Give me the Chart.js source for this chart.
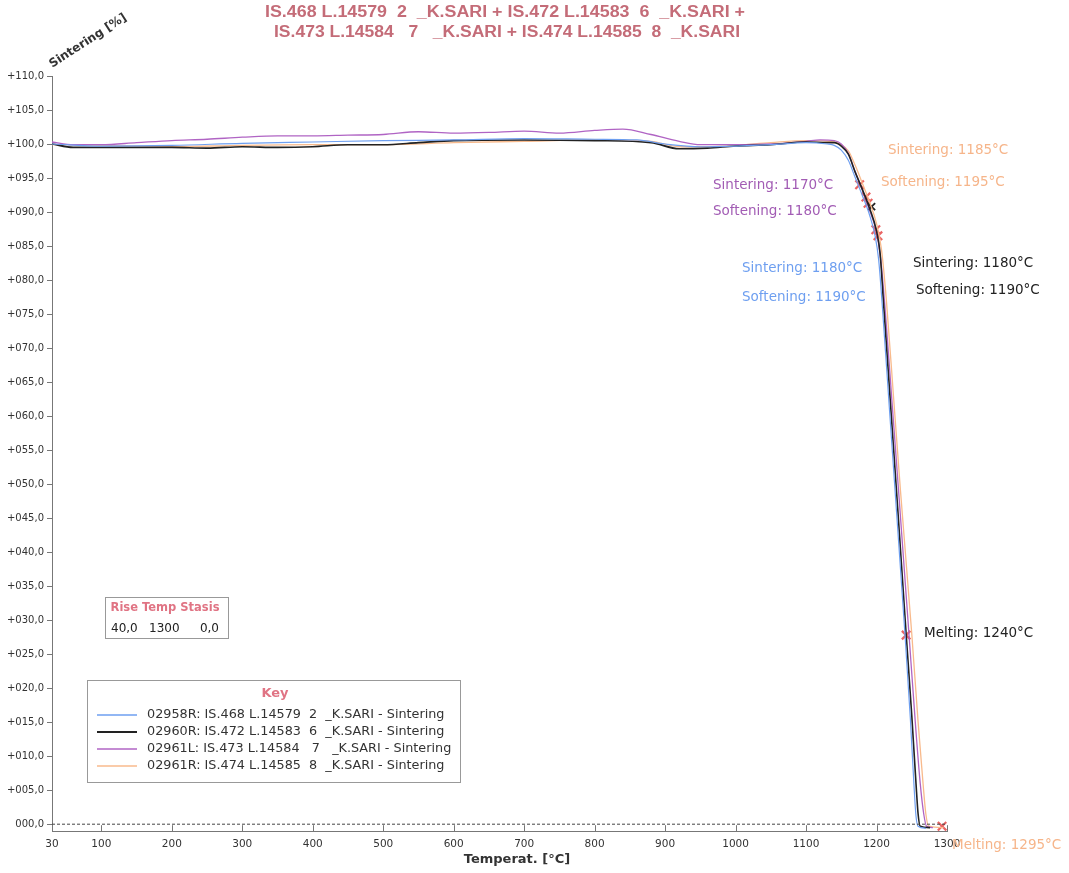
<!DOCTYPE html>
<html>
<head>
<meta charset="utf-8">
<script src="https://cdn.jsdelivr.net/npm/chart.js@4.4.1/dist/chart.umd.min.js"></script>
<style>
html,body{margin:0;padding:0;background:#fff;}
#wrap{width:1069px;height:873px;position:relative;}
</style>
</head>
<body>
<div id="wrap"><canvas id="c" width="1069" height="873"></canvas></div>
<script>
// ---- data ----
const xTicks = [30,100,200,300,400,500,600,700,800,900,1000,1100,1200,1300];
const yTicks = [0,5,10,15,20,25,30,35,40,45,50,55,60,65,70,75,80,85,90,95,100,105,110];

const blueT = [30,100,200,300,400,500,600,700,800,860,900,950,1000,1050,1100,1130,1140,1150,1160,1170,1180,1190,1198,1203,1208,1218,1228,1240,1248,1253,1256,1259,1270];
const blueV = [100.0,99.7,99.8,100.1,100.3,100.5,100.6,100.8,100.7,100.6,100.0,99.6,99.7,99.9,100.2,100.0,99.8,99.1,97.6,95.0,92.4,89.6,86.5,83.0,76.5,61.5,46.5,28.5,15.5,6.0,1.2,-0.3,-0.6];

const blackT = [30,60,100,200,250,300,350,400,450,500,550,600,700,800,880,920,960,1000,1050,1100,1130,1140,1150,1160,1170,1180,1190,1200,1205,1210,1220,1230,1242,1250,1256,1259,1262,1276];
const blackV = [100.0,99.5,99.5,99.5,99.4,99.6,99.5,99.6,99.9,99.9,100.2,100.5,100.6,100.5,100.2,99.3,99.4,99.7,99.9,100.3,100.2,100.2,99.7,98.5,95.8,93.3,90.6,87.2,84.0,76.5,61.5,46.5,28.0,16.0,6.0,1.5,-0.3,-0.5];

const purpleT = [30,60,100,150,200,250,300,350,400,450,500,550,600,650,700,750,800,840,880,920,950,1000,1050,1100,1120,1140,1150,1160,1170,1180,1190,1200,1206,1212,1222,1232,1246,1255,1262,1267,1271,1280];
const purpleV = [100.3,99.9,99.9,100.2,100.5,100.7,101.0,101.2,101.2,101.3,101.4,101.8,101.6,101.7,101.9,101.6,102.0,102.2,101.4,100.4,99.9,99.9,100.0,100.4,100.6,100.5,100.0,98.6,95.8,93.2,90.3,87.0,83.0,76.0,62.0,48.0,28.0,15.0,6.0,1.5,-0.3,-0.5];

const orangeT = [30,100,200,300,400,500,600,700,800,880,920,960,1000,1050,1100,1140,1150,1160,1170,1180,1190,1200,1207,1214,1224,1234,1250,1259,1266,1270,1274,1295];
const orangeV = [99.9,99.8,99.6,99.8,99.9,99.9,100.2,100.4,100.6,100.4,99.6,99.6,99.8,100.2,100.5,100.3,99.9,99.0,96.8,94.2,91.5,88.3,84.5,77.0,63.0,49.0,28.0,15.0,6.0,1.5,-0.3,-0.5];

const markT = [1176,1185,1188,1199,1202,1242,1293];
const markV = [94.0,92.2,91.3,87.4,86.5,27.8,-0.3];
const darkMarkT = [1193];
const darkMarkV = [90.8];

const seriesNames = [
  "02958R: IS.468 L.14579  2  _K.SARI - Sintering",
  "02960R: IS.472 L.14583  6  _K.SARI - Sintering",
  "02961L: IS.473 L.14584   7   _K.SARI - Sintering",
  "02961R: IS.474 L.14585  8  _K.SARI - Sintering"
];
const titleLines = [
  "IS.468 L.14579  2  _K.SARI + IS.472 L.14583  6  _K.SARI +",
  "IS.473 L.14584   7   _K.SARI + IS.474 L.14585  8  _K.SARI"
];
const annotations = [
  {t:"Sintering: 1185°C", x:888, y:150, c:"#f6b58a"},
  {t:"Softening: 1195°C", x:881, y:182, c:"#f6b58a"},
  {t:"Sintering: 1170°C", x:713, y:185, c:"#a25cb4"},
  {t:"Softening: 1180°C", x:713, y:211, c:"#a25cb4"},
  {t:"Sintering: 1180°C", x:742, y:268, c:"#6e9ff0"},
  {t:"Softening: 1190°C", x:742, y:297, c:"#6e9ff0"},
  {t:"Sintering: 1180°C", x:913, y:263, c:"#222222"},
  {t:"Softening: 1190°C", x:916, y:290, c:"#222222"},
  {t:"Melting: 1240°C", x:924, y:633, c:"#222222"},
  {t:"Melting: 1295°C", x:952, y:845, c:"#f6b58a"}
];

const colors = ["#6e9ff0","#222222","#b064c4","#f8ba8c"];
const widths = [1.2,1.6,1.3,1.3];

function pts(T,V){ return T.map((t,i)=>({x:t,y:V[i]})); }

const datasets = [
  {data:pts(blueT,blueV)},
  {data:pts(blackT,blackV)},
  {data:pts(purpleT,purpleV)},
  {data:pts(orangeT,orangeV)}
].map((d,i)=>Object.assign(d,{label:seriesNames[i],borderColor:colors[i],borderWidth:widths[i],pointRadius:0,cubicInterpolationMode:'monotone',fill:false,showLine:true}));

datasets.unshift({label:'zero',data:[{x:30,y:0},{x:1300,y:0}],borderColor:'#444',borderWidth:1,borderDash:[3,2],pointRadius:0,showLine:true});
datasets.push({label:'dmarks',data:pts(darkMarkT,darkMarkV),showLine:false,pointStyle:'crossRot',pointRadius:5,borderColor:'#222',borderWidth:1.8});
datasets.push({label:'marks',data:pts(markT,markV),showLine:false,pointStyle:'crossRot',pointRadius:6,borderColor:'#ea6464',borderWidth:2.2});

const FONT = "'DejaVu Sans', Verdana, sans-serif";

function fitText(ctx, txt, x, y, w){
  const m = ctx.measureText(txt).width;
  ctx.save();
  ctx.translate(x,y);
  ctx.scale(w/m,1);
  ctx.fillText(txt,0,0);
  ctx.restore();
}

const overlay = {
  id:'overlay',
  afterDraw(chart){
    const ctx = chart.ctx;
    const xs = chart.scales.x, ys = chart.scales.y;
    ctx.save();
    // x tick boxes
    ctx.strokeStyle='#777'; ctx.lineWidth=1;
    const yb = ys.getPixelForValue(-1), y0 = ys.getPixelForValue(0);
    xTicks.forEach(t=>{
      const px = Math.round(xs.getPixelForValue(t))+0.5;
      ctx.beginPath(); ctx.moveTo(px,yb); ctx.lineTo(px,y0+1); ctx.stroke();
    });
    // title
    ctx.fillStyle='#c46c78';
    ctx.font="bold 16px 'Liberation Sans', Arial, sans-serif";
    ctx.textAlign='center'; ctx.textBaseline='middle';
    fitText(ctx,titleLines[0],505,13,480);
    fitText(ctx,titleLines[1],507,33,466);
    // y title rotated
    ctx.save();
    ctx.translate(88,41); ctx.rotate(-Math.PI/180*33);
    ctx.fillStyle='#333'; ctx.font="bold 12px "+FONT;
    ctx.fillText("Sintering [%]",0,0);
    ctx.restore();
    // x title
    ctx.fillStyle='#333'; ctx.font="bold 13px "+FONT;
    ctx.fillText("Temperat. [°C]",517,860);
    // annotations
    ctx.textAlign='left';
    ctx.font="13.5px "+FONT;
    annotations.forEach(a=>{ctx.fillStyle=a.c; ctx.fillText(a.t,a.x,a.y);});
    // Rise box
    ctx.strokeStyle='#999'; ctx.lineWidth=1;
    ctx.strokeRect(105.5,597.5,123,41);
    ctx.fillStyle='#e07484'; ctx.font="bold 11.5px "+FONT; ctx.textAlign='center';
    ctx.fillText("Rise Temp Stasis",165,608);
    ctx.fillStyle='#222'; ctx.font="12px "+FONT; ctx.textAlign='left';
    ctx.fillText("40,0",111,629); ctx.fillText("1300",149,629);
    ctx.textAlign='right'; ctx.fillText("0,0",219,629);
    // Key box
    ctx.strokeStyle='#999';
    ctx.strokeRect(87.5,680.5,373,102);
    ctx.fillStyle='#e07484'; ctx.font="bold 13px "+FONT; ctx.textAlign='center';
    ctx.fillText("Key",275,694);
    ctx.textAlign='left'; ctx.font="12.8px "+FONT;
    seriesNames.forEach((n,i)=>{
      const yy = 715 + i*17;
      ctx.strokeStyle=colors[i]; ctx.lineWidth=widths[i]+0.4;
      ctx.beginPath(); ctx.moveTo(97,yy); ctx.lineTo(137,yy); ctx.stroke();
      ctx.fillStyle='#333'; ctx.fillText(n,147,yy);
    });
    ctx.restore();
  }
};

function fmtY(v){
  if(v===0) return "000,0";
  return "+"+String(v).padStart(3,'0')+",0";
}

new Chart(document.getElementById('c'),{
  type:'scatter',
  data:{datasets},
  options:{
    responsive:false, animation:false,
    layout:{padding:{left:0,right:122,top:76,bottom:0}},
    plugins:{legend:{display:false},tooltip:{enabled:false},title:{display:false}},
    scales:{
      x:{type:'linear',min:30,max:1300,
        afterBuildTicks(s){s.ticks=xTicks.map(v=>({value:v}));},
        afterFit(s){s.height=42;},
        grid:{display:false,drawOnChartArea:false},
        border:{display:true,color:'#777',width:1},
        ticks:{color:'#333',font:{family:FONT,size:10.5},maxRotation:0,autoSkip:false,padding:-1,callback:v=>String(v)}
      },
      y:{type:'linear',min:-1,max:110,
        afterBuildTicks(s){s.ticks=yTicks.map(v=>({value:v}));},
        afterFit(s){s.width=52;},
        grid:{drawOnChartArea:false,drawTicks:true,tickLength:5,color:'#777'},
        border:{display:true,color:'#777',width:1},
        ticks:{color:'#333',font:{family:FONT,size:10},autoSkip:false,padding:3,callback:v=>fmtY(v)}
      }
    }
  },
  plugins:[overlay]
});
</script>
</body>
</html>
